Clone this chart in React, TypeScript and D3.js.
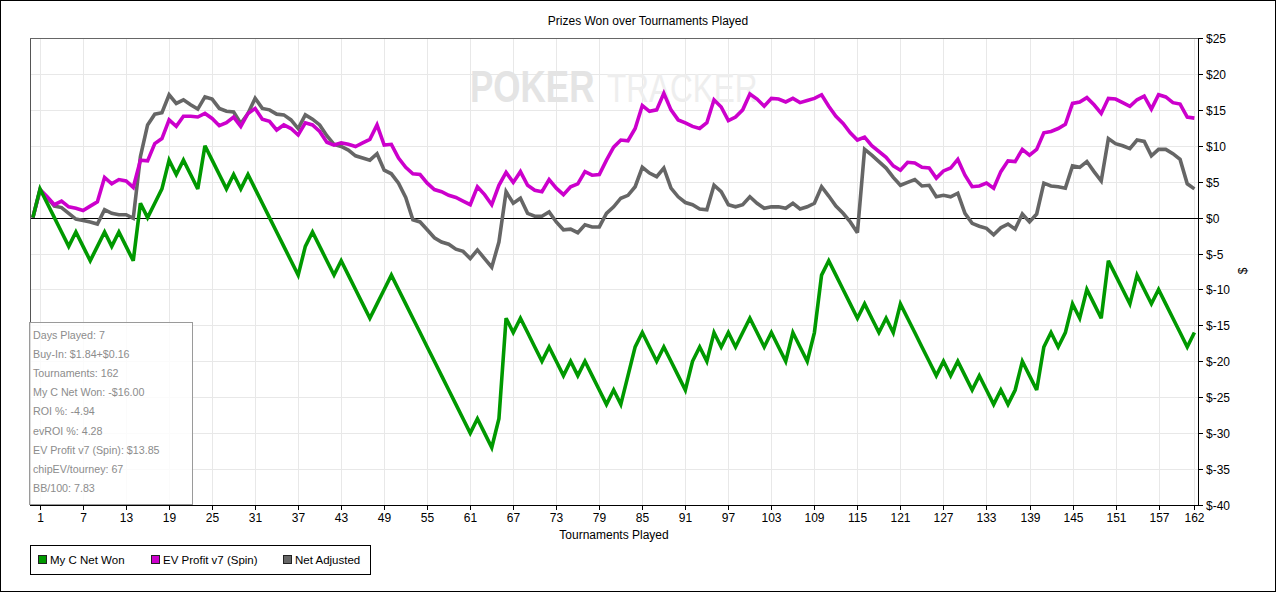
import * as d3 from "d3";
import * as React from "react";

// cumulative values per tournament (index = tournaments played, 0..162)
const netWon = [
  0, 4, 2, 0, -2, -4, -2, -4, -6, -4,
  -2, -4, -2, -4, -6, 2, 0, 2, 4, 8,
  6, 8, 6, 4, 10, 8, 6, 4, 6, 4,
  6, 4, 2, 0, -2, -4, -6, -8, -4, -2,
  -4, -6, -8, -6, -8, -10, -12, -14, -12, -10,
  -8, -10, -12, -14, -16, -18, -20, -22, -24, -26,
  -28, -30, -28, -30, -32, -28, -14, -16, -14, -16,
  -18, -20, -18, -20, -22, -20, -22, -20, -22, -24,
  -26, -24, -26, -22, -18, -16, -18, -20, -18, -20,
  -22, -24, -20, -18, -20, -16, -18, -16, -18, -16,
  -14, -16, -18, -16, -18, -20, -16, -18, -20, -16,
  -8, -6, -8, -10, -12, -14, -12, -14, -16, -14,
  -16, -12, -14, -16, -18, -20, -22, -20, -22, -20,
  -22, -24, -22, -24, -26, -24, -26, -24, -20, -22,
  -24, -18, -16, -18, -16, -12, -14, -10, -12, -14,
  -6, -8, -10, -12, -8, -10, -12, -10, -12, -14,
  -16, -18, -16,
];

const evProfit = [
  0, 3.9, 2.9, 1.8, 2.3, 1.5, 1.3, 1.0, 1.6, 2.2,
  5.6, 4.7, 5.3, 5.1, 4.2, 8.0, 7.9, 10.3, 11.0, 13.6,
  12.7, 14.1, 14.1, 14.0, 14.5, 13.8, 12.8, 13.2, 14.0, 12.7,
  14.5, 15.2, 13.7, 13.4, 12.2, 12.9, 12.4, 11.5, 13.2, 12.9,
  12.0, 10.5, 10.1, 10.4, 10.2, 9.9, 10.4, 10.9, 12.9, 10.1,
  10.2, 8.3, 7.0, 6.1, 6.0, 4.8, 3.9, 3.6, 3.1, 2.8,
  2.3, 1.8, 4.3, 3.2, 1.8, 4.5, 6.3, 4.9, 6.4, 4.5,
  3.8, 3.6, 5.3, 4.1, 3.2, 4.3, 4.7, 6.4, 5.9, 6.0,
  8.0, 9.8, 10.8, 10.7, 12.4, 15.6, 14.8, 15.0, 17.3, 15.0,
  13.6, 13.2, 12.7, 12.4, 13.2, 16.4, 15.4, 13.5, 14.0, 15.0,
  17.2, 16.5, 15.5, 16.6, 16.5, 16.1, 16.6, 16.0, 16.3, 16.6,
  17.1, 15.5, 14.1, 13.1, 11.8, 10.8, 11.2, 10.0, 9.2, 8.4,
  7.2, 6.6, 7.7, 7.6, 7.0, 6.9, 5.5, 6.5, 6.9, 8.1,
  5.9, 4.3, 4.4, 4.8, 4.1, 6.4, 7.9, 7.8, 9.5, 8.7,
  9.5, 11.8, 12.0, 12.4, 13.0, 15.9, 16.1, 16.7, 15.7, 14.5,
  16.6, 16.5, 16.0, 15.5, 16.4, 16.9, 15.1, 17.1, 16.8, 16.0,
  15.8, 14.0, 13.85,
];

const netAdjusted = [
  0, 3.8, 2.8, 1.6, 1.4, 0.6, -0.2, -0.4, -0.6, -0.9,
  1.1, 0.6, 0.4, 0.4, -0.1, 8.5, 12.9, 14.4, 14.6, 17.1,
  15.9, 16.4, 15.7, 15.1, 16.8, 16.5, 15.2, 14.8, 14.7, 13.1,
  14.5, 16.6, 15.2, 15.0, 14.4, 14.3, 13.6, 12.4, 14.3, 13.7,
  12.9, 11.4, 10.2, 9.9, 9.4, 8.6, 8.3, 8.0, 8.9, 6.6,
  6.1, 4.8, 2.8, -0.3, -0.6, -1.7, -2.8, -3.4, -3.7, -4.4,
  -4.7, -5.7, -4.5, -5.7, -6.9, -3.4, 3.6, 2.0, 2.7, 0.6,
  0.2, 0.2, 0.8, -0.6, -1.7, -1.6, -2.1, -1.0, -1.3, -1.3,
  0.6, 1.5, 2.7, 3.1, 4.3, 7.0, 6.2, 5.7, 6.9, 4.1,
  2.9, 2.1, 1.8, 1.2, 1.1, 4.5, 3.6, 1.8, 1.5, 1.8,
  2.9, 2.0, 1.3, 1.5, 1.5, 1.3, 2.0, 1.2, 1.5, 2.0,
  4.3, 3.0, 1.6, 0.6, -0.6, -2.1, 9.5, 8.7, 7.8, 6.9,
  5.6, 4.5, 4.9, 5.3, 4.4, 4.5, 2.9, 3.1, 2.9, 3.4,
  0.6, -0.8, -1.2, -1.5, -2.4, -1.4, -0.9, -1.6, 0.5, -0.6,
  0.5, 4.8, 4.4, 4.3, 4.1, 7.2, 7.0, 7.8, 6.4, 5.1,
  11.0, 10.3, 10.0, 9.6, 10.8, 10.6, 8.6, 9.5, 9.5, 8.9,
  8.1, 4.7, 4.0,
];

const xTicks = [1, 7, 13, 19, 25, 31, 37, 43, 49, 55, 61, 67, 73, 79, 85, 91, 97, 103, 109, 115, 121, 127, 133, 139, 145, 151, 157, 162];
const yTicks = [25, 20, 15, 10, 5, 0, -5, -10, -15, -20, -25, -30, -35, -40];

const seriesNames = ["My C Net Won", "EV Profit v7 (Spin)", "Net Adjusted"];
const seriesColors = ["#009900", "#cc00cc", "#666666"];

const statLines = [
  "Days Played: 7",
  "Buy-In: $1.84+$0.16",
  "Tournaments: 162",
  "My C Net Won: -$16.00",
  "ROI %: -4.94",
  "evROI %: 4.28",
  "EV Profit v7 (Spin): $13.85",
  "chipEV/tourney: 67",
  "BB/100: 7.83",
];

const font = "'Liberation Sans', Arial, sans-serif";

export default function App() {
  const width = 1280;
  const height = 593;
  const left = 30;
  const right = 1198;
  const top = 38;
  const bottom = 505;

  const x = d3.scaleLinear([-0.4, 162.5], [left, right]);
  const y = d3.scaleLinear([-40, 25], [bottom, top]);

  const line = d3
    .line<number>()
    .x((_, i) => x(i))
    .y((d) => y(d));

  const fmt = (v: number) => (v < 0 ? `$-${-v}` : `$${v}`);

  // draw order: gray under magenta under green
  const drawn = [
    { data: netAdjusted, color: seriesColors[2] },
    { data: evProfit, color: seriesColors[1] },
    { data: netWon, color: seriesColors[0] },
  ];

  const legendX = [38, 151, 283];

  return (
    <>
      <style>{"body{margin:0}"}</style>
      <svg width={width} height={height} viewBox={`0 0 ${width} ${height}`} style={{ display: "block", fontFamily: font }}>
        <rect x={0} y={0} width={width} height={height} fill="#fff" />
        <rect x={0.5} y={0.5} width={1275} height={591} fill="none" stroke="#000" />

        <text x={648} y={25} textAnchor="middle" fontSize={12} fill="#000">
          Prizes Won over Tournaments Played
        </text>

        {/* grid */}
        <g stroke="#e8e8e8" strokeWidth={1}>
          {xTicks.map((t) => (
            <line key={"gx" + t} x1={Math.round(x(t)) + 0.5} x2={Math.round(x(t)) + 0.5} y1={top} y2={bottom} />
          ))}
          {yTicks.map((v) => (
            <line key={"gy" + v} x1={left} x2={right} y1={Math.round(y(v)) + 0.5} y2={Math.round(y(v)) + 0.5} />
          ))}
        </g>

        {/* watermark */}
        <text transform="translate(470,102) scale(1,1.25)" fontSize={35} fill="#e4e4e4" fontWeight="bold">
          POKER
        </text>
        <text transform="translate(607,102) scale(1,1.3)" fontSize={31.5} fill="#eeeeee">
          TRACKER
        </text>

        {/* zero line */}
        <line x1={left} x2={right} y1={Math.round(y(0)) + 0.5} y2={Math.round(y(0)) + 0.5} stroke="#000" />

        {/* plot frame */}
        <line x1={left + 0.5} x2={left + 0.5} y1={top} y2={bottom} stroke="#555" />
        <line x1={left} x2={right} y1={top + 0.5} y2={top + 0.5} stroke="#666" />

        {/* series */}
        {drawn.map((s, i) => (
          <path key={i} d={line(s.data) ?? ""} fill="none" stroke={s.color} strokeWidth={3.6} strokeLinejoin="miter" strokeMiterlimit={3} />
        ))}

        {/* right axis */}
        <line x1={right + 0.5} x2={right + 0.5} y1={top} y2={bottom} stroke="#000" />
        {yTicks.map((v) => (
          <g key={"yt" + v} transform={`translate(${right},${Math.round(y(v)) + 0.5})`}>
            <line x1={0} x2={5} stroke="#000" />
            <text x={8} dy="0.35em" fontSize={12} fill="#000">
              {fmt(v)}
            </text>
          </g>
        ))}
        <text transform={`translate(1247,271) rotate(-90)`} textAnchor="middle" fontSize={12} fill="#000">
          $
        </text>

        {/* bottom axis */}
        <line x1={left} x2={right + 1} y1={bottom + 0.5} y2={bottom + 0.5} stroke="#000" />
        {xTicks.map((t) => (
          <g key={"xt" + t} transform={`translate(${Math.round(x(t)) + 0.5},${bottom})`}>
            <line y1={0} y2={5} stroke="#000" />
            <text y={17} textAnchor="middle" fontSize={12} fill="#000">
              {t}
            </text>
          </g>
        ))}
        <text x={614} y={539} textAnchor="middle" fontSize={12} fill="#000">
          Tournaments Played
        </text>

        {/* stats box */}
        <rect x={29.5} y={322.5} width={163} height={182} fill="#fff" fillOpacity={0.8} stroke="#9a9a9a" />
        {statLines.map((s, i) => (
          <text key={s} x={33} y={338.5 + i * 19.2} fontSize={10.7} fill="#8c8c8c">
            {s}
          </text>
        ))}

        {/* legend */}
        <rect x={30.5} y={545.5} width={340} height={29} fill="#fff" stroke="#000" />
        {seriesNames.map((name, i) => (
          <g key={name}>
            <rect x={legendX[i] + 0.5} y={555.5} width={8} height={8} fill={seriesColors[i]} stroke="#222" />
            <text x={legendX[i] + 12} y={564} fontSize={11.5} fill="#000">
              {name}
            </text>
          </g>
        ))}
      </svg>
    </>
  );
}
